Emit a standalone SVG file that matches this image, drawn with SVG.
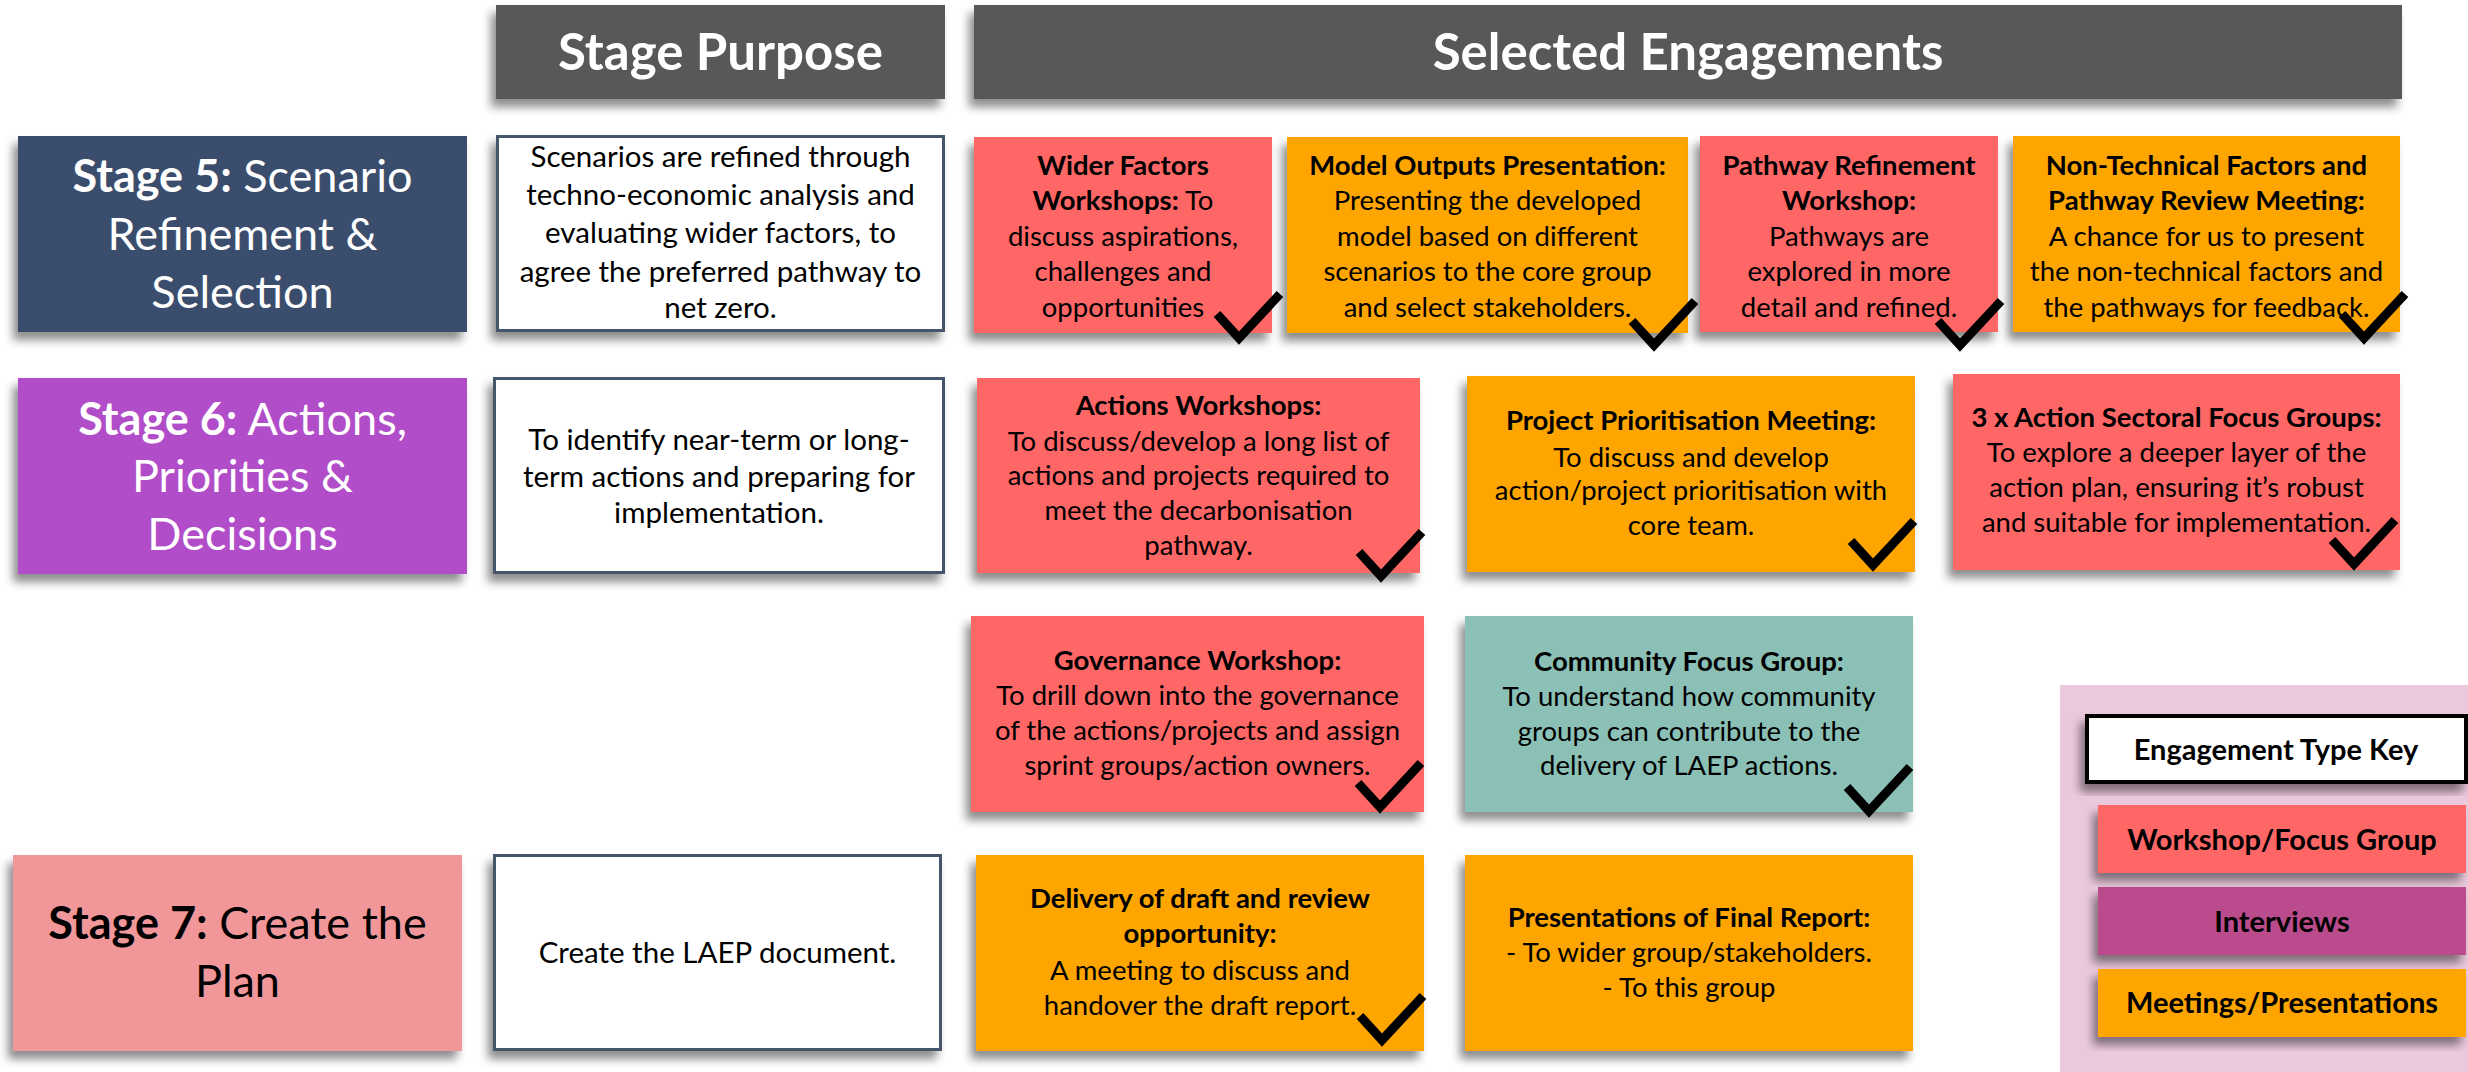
<svg xmlns="http://www.w3.org/2000/svg" width="2468" height="1072" viewBox="0 0 2468 1072">
<defs>
<filter id="sh" x="-10%" y="-10%" width="120%" height="130%">
<feDropShadow dx="-5" dy="8" stdDeviation="5" flood-color="#000" flood-opacity="0.45"/>
</filter>
<path id="chk" d="M-22,-24 L0,0 L41,-44" fill="none" stroke="#000" stroke-width="9" stroke-linejoin="miter"/>
</defs>
<style>
text{font-family:Lato,"Open Sans","Liberation Sans",sans-serif;text-anchor:middle}
.hdr{font-size:51px;font-weight:700;fill:#fff}
.stg{font-size:45px}
.pur{font-size:29.5px;fill:#000}
.eng{font-size:27.5px;fill:#000}
.key{font-size:29px;font-weight:700;fill:#000}
.b{font-weight:700}
.box{filter:url(#sh)}
.pbox{fill:#fff;stroke:#44546A;stroke-width:3}
.red{fill:#FF6666}
.org{fill:#FFA500}
.teal{fill:#8BC0B6}
</style>
<rect width="2468" height="1072" fill="#fff"/>

<g id="hdr-purpose">
<rect class="box" x="496" y="5" width="449" height="94" fill="#595959"/>
<text class="hdr" x="720.5" y="70">Stage Purpose</text>
</g>
<g id="hdr-engagements">
<rect class="box" x="974" y="5" width="1428" height="94" fill="#595959"/>
<text class="hdr" x="1688" y="70">Selected Engagements</text>
</g>

<g id="stage5">
<rect class="box" x="18" y="136" width="449" height="196" fill="#3B4D6D"/>
<text class="stg" fill="#fff"><tspan x="242.5" y="192"><tspan class="b">Stage 5:</tspan> Scenario</tspan><tspan x="242.5" y="250">Refinement &amp;</tspan><tspan x="242.5" y="308">Selection</tspan></text>
</g>
<g id="purpose5">
<rect class="box pbox" x="497.5" y="136.5" width="446" height="194"/>
<text class="pur"><tspan x="720.5" y="167">Scenarios are refined through</tspan><tspan x="720.5" y="205">techno-economic analysis and</tspan><tspan x="720.5" y="243">evaluating wider factors, to</tspan><tspan x="720.5" y="282">agree the preferred pathway to</tspan><tspan x="720.5" y="318">net zero.</tspan></text>
</g>

<g id="stage6">
<rect class="box" x="18" y="378" width="449" height="196" fill="#B14DC8"/>
<text class="stg" fill="#fff"><tspan x="242.5" y="435"><tspan class="b">Stage 6:</tspan> Actions,</tspan><tspan x="242.5" y="492">Priorities &amp;</tspan><tspan x="242.5" y="550">Decisions</tspan></text>
</g>
<g id="purpose6">
<rect class="box pbox" x="494.5" y="378.5" width="449" height="194"/>
<text class="pur"><tspan x="719" y="450">To identify near-term or long-</tspan><tspan x="719" y="487">term actions and preparing for</tspan><tspan x="719" y="523">implementation.</tspan></text>
</g>

<g id="stage7">
<rect class="box" x="13" y="855" width="449" height="196" fill="#F1979A"/>
<text class="stg" fill="#000"><tspan x="237.5" y="939"><tspan class="b">Stage 7:</tspan> Create the</tspan><tspan x="237.5" y="997">Plan</tspan></text>
</g>
<g id="purpose7">
<rect class="box pbox" x="494.5" y="855.5" width="446" height="194"/>
<text class="pur"><tspan x="717.5" y="963">Create the LAEP document.</tspan></text>
</g>

<g id="wider-factors">
<rect class="box red" x="974" y="137" width="298" height="196"/>
<text class="eng"><tspan x="1123" y="175" class="b">Wider Factors</tspan><tspan x="1123" y="210"><tspan class="b">Workshops:</tspan> To</tspan><tspan x="1123" y="246">discuss aspirations,</tspan><tspan x="1123" y="281">challenges and</tspan><tspan x="1123" y="317">opportunities</tspan></text>
<use href="#chk" x="1239" y="338"/>
</g>
<g id="model-outputs">
<rect class="box org" x="1287" y="137" width="401" height="196"/>
<text class="eng"><tspan x="1487.5" y="175" class="b">Model Outputs Presentation:</tspan><tspan x="1487.5" y="210">Presenting the developed</tspan><tspan x="1487.5" y="246">model based on different</tspan><tspan x="1487.5" y="281">scenarios to the core group</tspan><tspan x="1487.5" y="317">and select stakeholders.</tspan></text>
<use href="#chk" x="1654" y="345"/>
</g>
<g id="pathway-refinement">
<rect class="box red" x="1700" y="136" width="298" height="196"/>
<text class="eng"><tspan x="1849" y="175" class="b">Pathway Refinement</tspan><tspan x="1849" y="210" class="b">Workshop:</tspan><tspan x="1849" y="246">Pathways are</tspan><tspan x="1849" y="281">explored in more</tspan><tspan x="1849" y="317">detail and refined.</tspan></text>
<use href="#chk" x="1960" y="345"/>
</g>
<g id="non-technical">
<rect class="box org" x="2013" y="136" width="387" height="196"/>
<text class="eng"><tspan x="2206.5" y="175" class="b">Non-Technical Factors and</tspan><tspan x="2206.5" y="210" class="b">Pathway Review Meeting:</tspan><tspan x="2206.5" y="246">A chance for us to present</tspan><tspan x="2206.5" y="281">the non-technical factors and</tspan><tspan x="2206.5" y="317">the pathways for feedback.</tspan></text>
<use href="#chk" x="2364" y="338"/>
</g>

<g id="actions-workshops">
<rect class="box red" x="977" y="378" width="443" height="195"/>
<text class="eng"><tspan x="1198.5" y="415" class="b">Actions Workshops:</tspan><tspan x="1198.5" y="451">To discuss/develop a long list of</tspan><tspan x="1198.5" y="485">actions and projects required to</tspan><tspan x="1198.5" y="520">meet the decarbonisation</tspan><tspan x="1198.5" y="555">pathway.</tspan></text>
<use href="#chk" x="1381" y="576"/>
</g>
<g id="project-prioritisation">
<rect class="box org" x="1467" y="376" width="448" height="196"/>
<text class="eng"><tspan x="1691" y="430" class="b">Project Prioritisation Meeting:</tspan><tspan x="1691" y="467">To discuss and develop</tspan><tspan x="1691" y="500">action/project prioritisation with</tspan><tspan x="1691" y="535">core team.</tspan></text>
<use href="#chk" x="1873" y="565"/>
</g>
<g id="sectoral-focus-groups">
<rect class="box red" x="1953" y="374" width="447" height="196"/>
<text class="eng"><tspan x="2176.5" y="427" class="b">3 x Action Sectoral Focus Groups:</tspan><tspan x="2176.5" y="462">To explore a deeper layer of the</tspan><tspan x="2176.5" y="497">action plan, ensuring it’s robust</tspan><tspan x="2176.5" y="532">and suitable for implementation.</tspan></text>
<use href="#chk" x="2354" y="564"/>
</g>

<g id="governance-workshop">
<rect class="box red" x="971" y="616" width="453" height="196"/>
<text class="eng"><tspan x="1197.5" y="670" class="b">Governance Workshop:</tspan><tspan x="1197.5" y="705">To drill down into the governance</tspan><tspan x="1197.5" y="740">of the actions/projects and assign</tspan><tspan x="1197.5" y="775">sprint groups/action owners.</tspan></text>
<use href="#chk" x="1380" y="807"/>
</g>
<g id="community-focus-group">
<rect class="box teal" x="1465" y="616" width="448" height="196"/>
<text class="eng"><tspan x="1689" y="671" class="b">Community Focus Group:</tspan><tspan x="1689" y="706">To understand how community</tspan><tspan x="1689" y="741">groups can contribute to the</tspan><tspan x="1689" y="775">delivery of LAEP actions.</tspan></text>
<use href="#chk" x="1869" y="811"/>
</g>

<g id="delivery-draft">
<rect class="box org" x="976" y="855" width="448" height="196"/>
<text class="eng"><tspan x="1200" y="908" class="b">Delivery of draft and review</tspan><tspan x="1200" y="943" class="b">opportunity:</tspan><tspan x="1200" y="980">A meeting to discuss and</tspan><tspan x="1200" y="1015">handover the draft report.</tspan></text>
<use href="#chk" x="1382" y="1040"/>
</g>
<g id="final-report">
<rect class="box org" x="1465" y="855" width="448" height="196"/>
<text class="eng"><tspan x="1689" y="927" class="b">Presentations of Final Report:</tspan><tspan x="1689" y="962">- To wider group/stakeholders.</tspan><tspan x="1689" y="997">- To this group</tspan></text>
</g>

<g id="key">
<rect x="2060" y="685" width="408" height="387" fill="#EBC9DD"/>
<g id="key-title">
<rect class="box" x="2087" y="716" width="379" height="66" fill="#fff" stroke="#000" stroke-width="4"/>
<text class="key" x="2276" y="760">Engagement Type Key</text>
</g>
<g id="key-workshop">
<rect class="box red" x="2098" y="805" width="368" height="68"/>
<text class="key" x="2282" y="850">Workshop/Focus Group</text>
</g>
<g id="key-interviews">
<rect class="box" x="2098" y="887" width="368" height="68" fill="#BA4B8C"/>
<text class="key" x="2282" y="932">Interviews</text>
</g>
<g id="key-meetings">
<rect class="box org" x="2098" y="969" width="368" height="68"/>
<text class="key" x="2282" y="1013">Meetings/Presentations</text>
</g>
</g>

<g id="connectors"></g>
</svg>
